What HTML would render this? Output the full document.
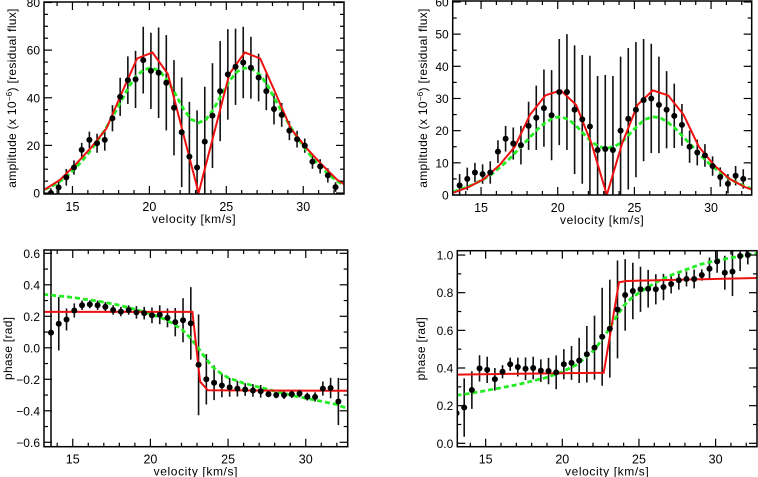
<!DOCTYPE html>
<html><head><meta charset="utf-8"><style>
html,body{margin:0;padding:0;background:#fff;}
svg{display:block;font-family:"Liberation Sans",sans-serif;}
</style></head><body>
<svg id="chart" width="758" height="477" viewBox="0 0 758 477" xmlns="http://www.w3.org/2000/svg"></svg>
<script>
// ---------- data ----------
const velA = [13.6,14.1,14.6,15.1,15.6,16.1,16.6,17.1,17.6,18.1,18.6,19.1,19.6,20.1,20.6,21.1,21.6,22.1,22.6,23.1,23.6,24.1,24.6,25.1,25.6,26.1,26.6,27.1,27.6,28.1,28.6,29.1,29.6,30.1,30.6,31.1,31.6,32.1];
const velB = [13.1,13.6,14.1,14.6,15.1,15.6,16.1,16.6,17.1,17.6,18.1,18.6,19.1,19.6,20.1,20.6,21.1,21.6,22.1,22.6,23.1,23.6,24.1,24.6,25.1,25.6,26.1,26.6,27.1,27.6,28.1,28.6,29.1,29.6,30.1,30.6,31.1,31.6,32.1];
const modelVel = [13.2,14.2,15.2,16.2,17.2,18.2,19.2,20.2,21.2,22.2,23.2,24.2,25.2,26.2,27.2,28.2,29.2,30.2,31.2,32.2,33.2];
const fineVel = [13.2,13.7,14.2,14.7,15.2,15.7,16.2,16.7,17.2,17.7,18.2,18.7,19.2,19.7,20.2,20.7,21.2,21.7,22.2,22.7,23.2,23.7,24.2,24.7,25.2,25.7,26.2,26.7,27.2,27.7,28.2,28.7,29.2,29.7,30.2,30.7,31.2,31.7,32.2,32.7,33.2];

const ampAVal = [0,2.4,6.6,10.7,18.1,22.3,20.9,22.3,31.4,40.4,47.4,47.7,55.8,51.3,50.5,46.3,35.8,25.5,15.3,10.7,21.6,32.5,42.8,49.8,53,54.8,52.6,48.5,42.8,35.3,32.8,26.2,22.6,19.9,13.2,11.2,7.4,2.5];
const ampAErr = [2,3,3.5,3,3,3.5,4,4.5,5.5,8,10,12,14,16,19,20,20,23,23,24,23,22,21,19,16,15,13,10,8,6.5,5,4,3.5,3,3,3,3,2];
const ampARed = [1.5,5.6,12,19,27,42,56.5,59,50,25,0,25,50,59,56.5,42,27,19,12,5.6,1.5];
const ampAGreen = [1.5,3,5,7.5,10.5,14,18,22.5,27.5,33,39,45,49.5,52,52.5,51,47,41.5,35.5,31,29.5,31,35.5,41.5,47,51,52.5,52,49.5,45,39,33,27.5,22.5,18,14,10.5,7.5,5,3,1.5];

const ampBVal = [3,5,7,6.5,7,13.5,17.5,16,15.5,21.5,24,27,24.8,32,32,26.5,23.5,21.3,14,14.3,14,20,23.7,26.5,29.5,30,28,26.5,24.6,21.8,15,13.2,12.3,9,5.6,3.5,6,5];
const ampBErr = [3.5,3.5,3,3,3.5,3.5,4,5,6,7.5,10,12,14,16.5,18,20,20,22,23,23,23,23,22,21,19,17,15,12,10,6.5,5,4,3.5,3,3,3,3,3];
const ampBRed = [0.7,2.5,5,9.3,15,25,31,32.5,28,16,0,16,28,32.5,31,25,15,9.3,5,2.5,0.7];
const ampBGreen = [1,1.8,2.7,3.8,5,6.5,8.5,10.5,13,15.5,18,20.5,22.5,24,24.3,23.5,21.5,19,16.5,15,14.5,15,16.5,19,21.5,23.5,24.3,24,22.5,20.5,18,15.5,13,10.5,8.5,6.5,5,3.8,2.7,1.8,1];

const phAVal = [0.096,0.153,0.18,0.237,0.27,0.276,0.27,0.26,0.24,0.23,0.24,0.225,0.22,0.206,0.21,0.19,0.163,0.175,0.155,-0.108,-0.2,-0.222,-0.239,-0.251,-0.259,-0.265,-0.271,-0.276,-0.294,-0.3,-0.3,-0.294,-0.29,-0.31,-0.312,-0.259,-0.255,-0.341];
const phAErr = [0.8,0.17,0.07,0.045,0.03,0.025,0.03,0.03,0.03,0.03,0.03,0.04,0.04,0.05,0.06,0.06,0.09,0.14,0.23,0.32,0.16,0.11,0.075,0.06,0.05,0.04,0.04,0.04,0.02,0.02,0.025,0.025,0.025,0.025,0.03,0.045,0.065,0.15];
const phARedX = [13.1,22.7,23.2,23.7,32.8];
const phARedY = [0.228,0.228,-0.215,-0.27,-0.273];
const phAGreenX = [13.1,14,15,16,17,18,19,20,21,22,22.5,23,23.5,24,24.5,25,26,27,28,29,30,31,32,32.8];
const phAGreenY = [0.34,0.33,0.32,0.305,0.29,0.27,0.245,0.215,0.18,0.12,0.07,0.01,-0.06,-0.12,-0.16,-0.19,-0.225,-0.25,-0.275,-0.3,-0.32,-0.34,-0.36,-0.39];

const phBVal = [0.16,0.19,0.283,0.398,0.39,0.34,0.38,0.42,0.405,0.396,0.4,0.386,0.384,0.377,0.42,0.427,0.44,0.473,0.508,0.566,0.609,0.711,0.788,0.809,0.818,0.821,0.818,0.83,0.846,0.866,0.873,0.873,0.894,0.927,0.966,0.906,0.912,0.995,1.0];
const phBErr = [0.17,0.155,0.1,0.07,0.07,0.06,0.035,0.035,0.05,0.06,0.06,0.06,0.07,0.09,0.08,0.09,0.12,0.15,0.17,0.26,0.26,0.26,0.19,0.15,0.12,0.1,0.08,0.07,0.05,0.05,0.04,0.05,0.03,0.06,0.06,0.09,0.13,0.08,0.05];
const phBRedX = [13.1,22.7,23.7,24.2,32.8];
const phBRedY = [0.365,0.375,0.855,0.862,0.878];
const phBGreenX = [13.1,14,15,16,17,18,19,20,21,22,22.5,23,23.5,24,24.5,25,26,27,28,29,30,31,32,32.8];
const phBGreenY = [0.255,0.265,0.28,0.295,0.31,0.33,0.35,0.38,0.42,0.49,0.54,0.6,0.67,0.73,0.77,0.8,0.85,0.89,0.92,0.95,0.97,0.985,1.0,1.01];

const xTicks = [15,20,25,30];
const ampATicks = [0,20,40,60,80];
const ampBTicks = [0,10,20,30,40,50,60];
const phATicks = [-0.6,-0.4,-0.2,0.0,0.2,0.4,0.6];
const phBTicks = [0.0,0.2,0.4,0.6,0.8,1.0];

// ---------- drawing ----------
const NS = "http://www.w3.org/2000/svg";
const svg = document.getElementById("chart");
function mk(tag, attrs, parent) {
  const e = document.createElementNS(NS, tag);
  for (const k in attrs) e.setAttribute(k, attrs[k]);
  (parent || svg).appendChild(e);
  return e;
}
function fmt(v, dec) {
  const s = Math.abs(v).toFixed(dec);
  return (v < -1e-9 ? "\u2212" : "") + s;
}

let clipId = 0;
function panel(cfg) {
  const g = mk("g", {});
  
  
  const X = v => cfg.L + (v - cfg.xmin) / (cfg.xmax - cfg.xmin) * (cfg.R - cfg.L);
  const Y = v => cfg.B - (v - cfg.ymin) / (cfg.ymax - cfg.ymin) * (cfg.B - cfg.T);
  const id = "clip" + (clipId++);
  const cp = mk("clipPath", { id: id }, g);
  mk("rect", { x: cfg.L, y: cfg.T, width: cfg.R - cfg.L, height: cfg.B - cfg.T }, cp);
  const plot = mk("g", { "clip-path": "url(#" + id + ")" }, g);
  
  

  cfg.vel.forEach((v, i) => {
    const e = mk("line", { x1: X(v), x2: X(v), y1: Y(cfg.val[i] - cfg.err[i]), y2: Y(cfg.val[i] + cfg.err[i]), stroke: "#111", "stroke-width": 1.6 }, plot);
    
    
  });
  const gp = cfg.gx.map((v, i) => X(v).toFixed(1) + "," + Y(cfg.gy[i]).toFixed(1)).join(" ");
  const gl = mk("polyline", { points: gp, fill: "none", stroke: "#22ee22", "stroke-width": 2.8, "stroke-dasharray": "5,3" }, plot);
  
  
  const rp = cfg.rx.map((v, i) => X(v).toFixed(1) + "," + Y(cfg.ry[i]).toFixed(1)).join(" ");
  const rl = mk("polyline", { points: rp, fill: "none", stroke: "#ee1111", "stroke-width": 2, "stroke-linejoin": "miter" }, plot);
  
  
  cfg.vel.forEach((v, i) => {
    const c = mk("circle", { cx: X(v), cy: Y(cfg.val[i]), r: 3, fill: "#000" }, plot);
    
    
  });

  const fr = mk("rect", { x: cfg.L, y: cfg.T, width: cfg.R - cfg.L, height: cfg.B - cfg.T, fill: "none", stroke: "#000", "stroke-width": 1.5 }, g);
  
  

  for (let m = Math.ceil(cfg.xmin); m <= cfg.xmax; m++) {
    const major = m % 5 === 0;
    const len = major ? 8 : 4;
    const x = X(m);
    mk("line", { x1: x, x2: x, y1: cfg.B, y2: cfg.B - len, stroke: "#000", "stroke-width": 1.2 }, g);
    mk("line", { x1: x, x2: x, y1: cfg.T, y2: cfg.T + len, stroke: "#000", "stroke-width": 1.2 }, g);
  }
  xTicks.forEach(t => {
    const tx = mk("text", { x: X(t), y: cfg.B + 17, "text-anchor": "middle", "font-size": 12.5, fill: "#000" }, g);
    tx.textContent = t;
    
    
  });
  const yt = cfg.yticks;
  const step = yt[1] - yt[0];
  for (let j = 0; j < yt.length; j++) {
    const y = Y(yt[j]);
    mk("line", { x1: cfg.L, x2: cfg.L + 8, y1: y, y2: y, stroke: "#000", "stroke-width": 1.2 }, g);
    mk("line", { x1: cfg.R, x2: cfg.R - 8, y1: y, y2: y, stroke: "#000", "stroke-width": 1.2 }, g);
    for (let k = 1; k < cfg.minor; k++) {
      const v = yt[j] + step * k / cfg.minor;
      if (v > cfg.ymax) break;
      const ym = Y(v);
      mk("line", { x1: cfg.L, x2: cfg.L + 4, y1: ym, y2: ym, stroke: "#000", "stroke-width": 1.2 }, g);
      mk("line", { x1: cfg.R, x2: cfg.R - 4, y1: ym, y2: ym, stroke: "#000", "stroke-width": 1.2 }, g);
    }
    const lb = mk("text", { x: cfg.L - 4, y: y + 4.5, "text-anchor": "end", "font-size": 12, fill: "#000" }, g);
    lb.textContent = fmt(yt[j], cfg.dec);
    
    
  }
  const xt = mk("text", { x: (cfg.L + cfg.R) / 2, y: cfg.B + 29, "text-anchor": "middle", "font-size": 12, "letter-spacing": 0.6, fill: "#000" }, g);
  xt.textContent = "velocity [km/s]";
  
  
  const cy = (cfg.T + cfg.B) / 2;
  const ytl = mk("text", { x: cfg.ytx, y: cy, "text-anchor": "middle", "font-size": 12, "letter-spacing": 0.3, fill: "#000", transform: "rotate(-90 " + cfg.ytx + " " + cy + ")" }, g);
  
  
  if (cfg.amp) {
    ytl.appendChild(document.createTextNode("amplitude (x 10"));
    const sup = mk("tspan", { dy: -4, "font-size": 8 }, ytl);
    sup.textContent = "\u22126";
    const rest = mk("tspan", { dy: 4 }, ytl);
    rest.textContent = ") [residual flux]";
  } else {
    ytl.textContent = "phase [rad]";
  }
}

panel({ name: "amplitude-panel-left", L: 44, R: 344, T: 2, B: 194, xmin: 13.15, xmax: 32.65, ymin: -0.4, ymax: 80.2,
  vel: velA, val: ampAVal, err: ampAErr, rx: modelVel, ry: ampARed, gx: fineVel, gy: ampAGreen,
  yticks: ampATicks, minor: 4, dec: 0, amp: true, ytx: 16 });
panel({ name: "amplitude-panel-right", L: 452.7, R: 751.7, T: 1, B: 195, xmin: 13.15, xmax: 32.65, ymin: 0, ymax: 60.3,
  vel: velA, val: ampBVal, err: ampBErr, rx: modelVel, ry: ampBRed, gx: fineVel, gy: ampBGreen,
  yticks: ampBTicks, minor: 2, dec: 0, amp: true, ytx: 427 });
panel({ name: "phase-panel-left", L: 44, R: 347.7, T: 250, B: 446.7, xmin: 13.15, xmax: 32.7, ymin: -0.628, ymax: 0.621,
  vel: velA, val: phAVal, err: phAErr, rx: phARedX, ry: phARedY, gx: phAGreenX, gy: phAGreenY,
  yticks: phATicks, minor: 2, dec: 1, amp: false, ytx: 12 });
panel({ name: "phase-panel-right", L: 457.3, R: 757, T: 250.7, B: 446.7, xmin: 13.15, xmax: 32.7, ymin: -0.018, ymax: 1.023,
  vel: velB, val: phBVal, err: phBErr, rx: phBRedX, ry: phBRedY, gx: phBGreenX, gy: phBGreenY,
  yticks: phBTicks, minor: 2, dec: 1, amp: false, ytx: 425 });
</script>
</body></html>
